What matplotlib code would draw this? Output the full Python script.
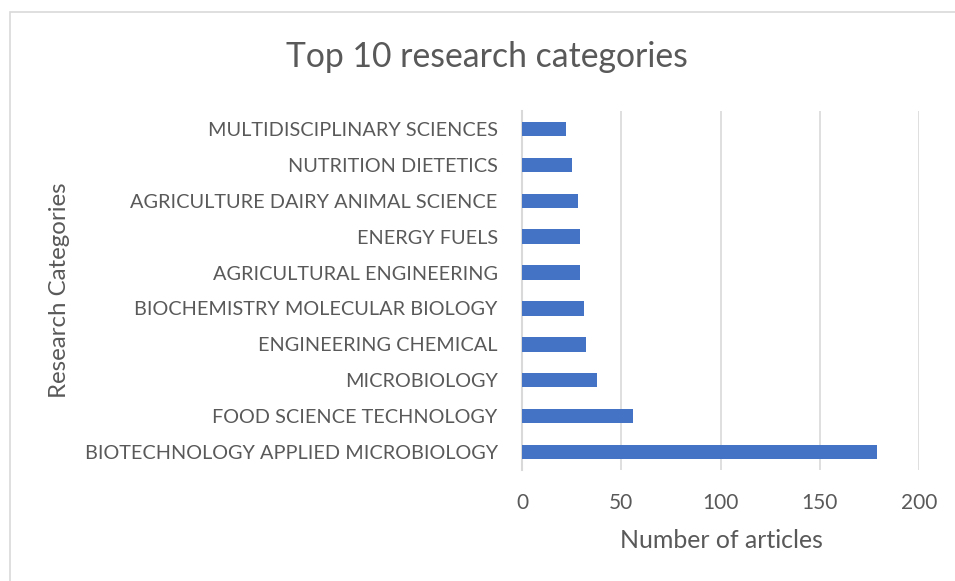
import matplotlib
matplotlib.use("Agg")
import matplotlib.pyplot as plt
from matplotlib.patches import Rectangle

plt.rcParams['font.family'] = ['Lato', 'DejaVu Sans']

categories = ["BIOTECHNOLOGY APPLIED MICROBIOLOGY", "FOOD SCIENCE TECHNOLOGY",
              "MICROBIOLOGY", "ENGINEERING CHEMICAL", "BIOCHEMISTRY MOLECULAR BIOLOGY",
              "AGRICULTURAL ENGINEERING", "ENERGY FUELS", "AGRICULTURE DAIRY ANIMAL SCIENCE",
              "NUTRITION DIETETICS", "MULTIDISCIPLINARY SCIENCES"]
articles = [179, 56, 38, 32, 31, 29, 29, 28, 25, 22]
xticks = [0, 50, 100, 150, 200]

text_color = '#595959'
grid_color = '#D9D9D9'

fig = plt.figure(figsize=(9.55, 5.81), dpi=100)
fig.patches.append(Rectangle((10 / 955, -0.01), 1.0, 1 - 12 / 581 + 0.01,
                             transform=fig.transFigure, fill=False,
                             edgecolor=grid_color, linewidth=1.2))

ax = fig.add_axes([522 / 955, 1 - 470 / 581, (919 - 522) / 955, (470 - 111) / 581])
ax.barh(range(len(categories)), articles, height=0.4, color='#4472C4', zorder=3)
ax.set_xlim(0, 200)
ax.set_ylim(-0.5, len(categories) - 0.5)
ax.set_xticks(xticks)
ax.set_yticks(range(len(categories)))
ax.set_yticklabels(categories)
ax.grid(axis='x', color=grid_color, linewidth=1.2, zorder=0)
for s in ['top', 'right', 'bottom']:
    ax.spines[s].set_visible(False)
ax.spines['left'].set_color(grid_color)
ax.spines['left'].set_linewidth(1.5)
ax.tick_params(axis='both', length=0, colors=text_color)
ax.tick_params(axis='y', labelsize=14.3, pad=17.5)
ax.tick_params(axis='x', labelsize=15, pad=16.5)

fig.text(721 / 955, 1 - 541 / 581, "Number of articles", fontsize=17.9,
         color=text_color, ha='center', va='center')
fig.text(60 / 955, 1 - 290 / 581, "Research Categories", rotation=90,
         fontsize=17.3, color=text_color, ha='center', va='center')
fig.text(487 / 955, 1 - 57 / 581, "Top 10 research categories", fontsize=24.3,
         color=text_color, ha='center', va='center')

fig.savefig("out.png", dpi=100)
